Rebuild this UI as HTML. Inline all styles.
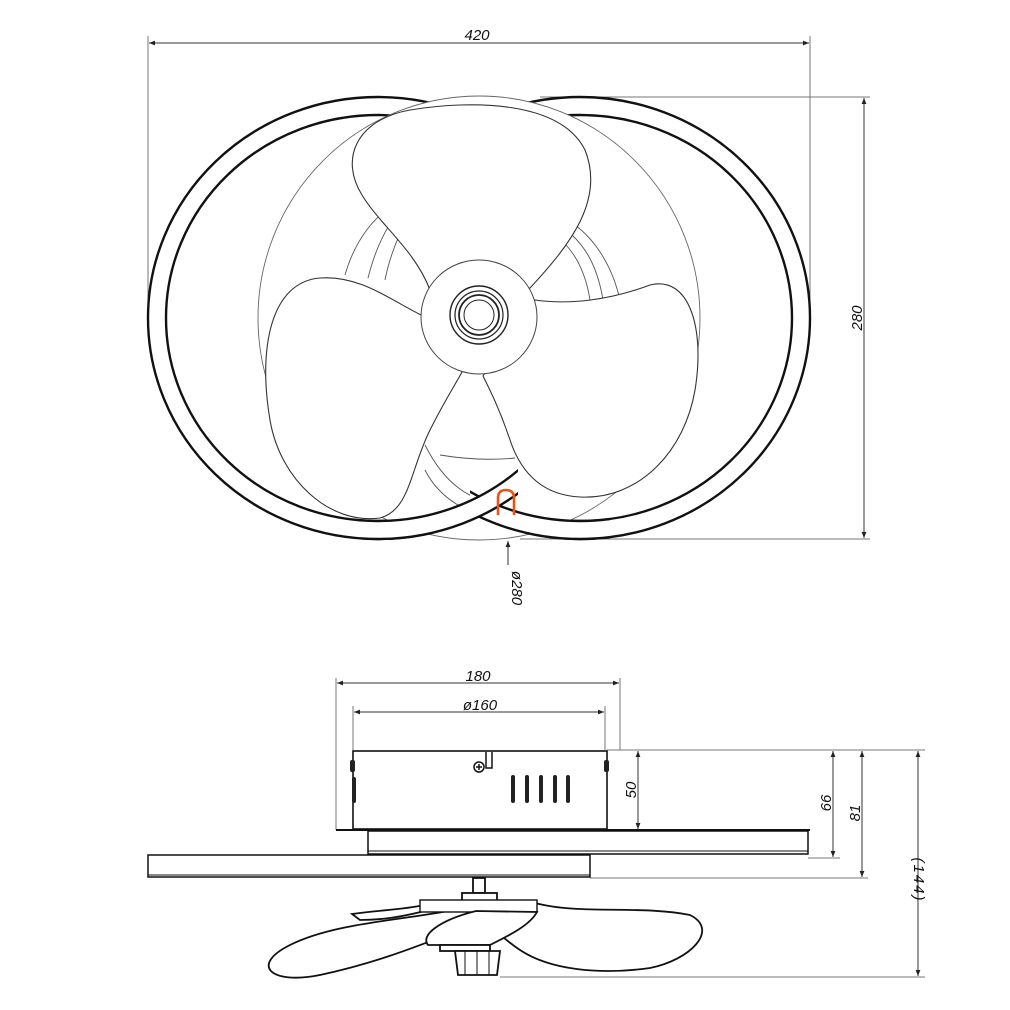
<!DOCTYPE html>
<html><head><meta charset="utf-8"><style>
html,body{margin:0;padding:0;background:#fff;}
svg{display:block;}
text{font-family:"Liberation Sans",sans-serif;font-style:italic;font-size:15px;fill:#111;}
</style></head><body>
<svg width="1010" height="1010" viewBox="0 0 1010 1010" xmlns="http://www.w3.org/2000/svg">
<defs>
<marker id="a" viewBox="0 0 10 10" refX="10" refY="5" markerWidth="9" markerHeight="6" orient="auto-start-reverse"><path d="M0,1 L10,5 L0,9 z" fill="#222"/></marker>
<clipPath id="cl"><rect x="360" y="440" width="158" height="110"/></clipPath>
<clipPath id="cr"><rect x="470" y="470" width="140" height="80"/></clipPath>
</defs>
<g fill="none" stroke="#333" stroke-width="1">
<line x1="148" y1="36" x2="148" y2="300" stroke="#777"/>
<line x1="810" y1="36" x2="810" y2="300" stroke="#777"/>
<line x1="149" y1="43" x2="809" y2="43" marker-start="url(#a)" marker-end="url(#a)"/>
<line x1="540" y1="97" x2="870" y2="97" stroke="#777"/>
<line x1="520" y1="539" x2="870" y2="539" stroke="#777"/>
<line x1="864" y1="98" x2="864" y2="538" marker-start="url(#a)" marker-end="url(#a)"/>
<line x1="508" y1="541" x2="508" y2="565" marker-start="url(#a)"/>
</g>
<text x="477" y="40" text-anchor="middle">420</text>
<text transform="translate(862,318) rotate(-90)" text-anchor="middle">280</text>
<text transform="translate(512,588) rotate(90)" text-anchor="middle">ø280</text>

<!-- rings -->
<g fill="none" stroke="#111" stroke-width="2.4">
<ellipse cx="378" cy="318" rx="230" ry="221"/>
<ellipse cx="378" cy="318" rx="212" ry="203"/>
<ellipse cx="580" cy="318" rx="230" ry="221"/>
<ellipse cx="580" cy="318" rx="212" ry="203"/>
</g>
<!-- fan circle -->
<ellipse cx="479" cy="318" rx="221" ry="222" fill="#fff" stroke="#666" stroke-width="0.9"/>
<g fill="none" stroke="#555" stroke-width="0.9">
<path d="M345,275 C355,240 375,215 395,205"/>
<path d="M368,278 C375,250 385,228 400,210"/>
<path d="M385,280 C390,255 398,235 410,215"/>
<path d="M620,300 C612,265 595,240 575,225"/>
<path d="M603,300 C598,270 588,250 572,235"/>
<path d="M590,300 C586,275 578,258 566,245"/>
<path d="M425,445 C445,485 470,500 500,505"/>
<path d="M440,455 C470,460 495,460 515,458"/>
<path d="M425,470 C440,500 470,515 500,520"/>
</g>
<!-- blades -->
<g fill="#fff" stroke="#333" stroke-width="1.1">
<path d="M430,290 C415,250 380,225 362,195 C340,160 355,120 410,110 C470,100 560,100 585,150 C605,200 570,245 530,288 Z"/>
<path d="M425,317 C390,300 360,275 320,278 C270,282 258,350 270,420 C280,480 330,525 380,518 C410,510 410,470 430,430 C445,400 455,385 462,372 Z"/>
</g>
<!-- front ring parts -->
<g clip-path="url(#cr)" fill="#fff" fill-rule="evenodd" stroke="#111" stroke-width="2.4">
<path d="M350,318 a230,221 0 1,0 460,0 a230,221 0 1,0 -460,0 Z M368,318 a212,203 0 1,0 424,0 a212,203 0 1,0 -424,0 Z"/>
</g>
<g clip-path="url(#cl)" fill="#fff" fill-rule="evenodd" stroke="#111" stroke-width="2.4">
<path d="M148,318 a230,221 0 1,0 460,0 a230,221 0 1,0 -460,0 Z M166,318 a212,203 0 1,0 424,0 a212,203 0 1,0 -424,0 Z"/>
</g>
<g fill="#fff" stroke="#333" stroke-width="1.1">
<path d="M535,300 C570,305 610,300 650,285 C690,275 705,330 695,390 C685,450 640,500 580,497 C540,495 520,470 510,440 C500,410 490,390 483,376 Z"/>
</g>
<!-- hub -->
<ellipse cx="479" cy="317" rx="58" ry="57" fill="#fff" stroke="#444" stroke-width="1"/>
<g fill="none" stroke="#222">
<circle cx="479" cy="315" r="29" stroke-width="1.4"/>
<circle cx="479" cy="315" r="24" stroke-width="1.2"/>
<circle cx="479" cy="315" r="20" stroke-width="1.8"/>
<circle cx="479" cy="315" r="15" stroke-width="1"/>
</g>
<path d="M498,515 L498,498 Q498,490 506,490 Q514,490 514,498 L514,515" fill="none" stroke="#e8541a" stroke-width="2.6"/>

<!-- bottom view dims -->
<g fill="none" stroke="#333" stroke-width="1">
<line x1="336" y1="678" x2="336" y2="830" stroke="#777"/>
<line x1="620" y1="678" x2="620" y2="750" stroke="#777"/>
<line x1="353" y1="706" x2="353" y2="750" stroke="#777"/>
<line x1="605" y1="706" x2="605" y2="750" stroke="#777"/>
<line x1="337" y1="683" x2="619" y2="683" marker-start="url(#a)" marker-end="url(#a)"/>
<line x1="354" y1="712" x2="604" y2="712" marker-start="url(#a)" marker-end="url(#a)"/>
<line x1="607" y1="750" x2="925" y2="750" stroke="#777"/>
<line x1="808" y1="858" x2="840" y2="858" stroke="#777"/>
<line x1="590" y1="878" x2="868" y2="878" stroke="#777"/>
<line x1="500" y1="977" x2="925" y2="977" stroke="#777"/>
<line x1="638" y1="751" x2="638" y2="829" marker-start="url(#a)" marker-end="url(#a)"/>
<line x1="833" y1="751" x2="833" y2="857" marker-start="url(#a)" marker-end="url(#a)"/>
<line x1="862" y1="751" x2="862" y2="877" marker-start="url(#a)" marker-end="url(#a)"/>
<line x1="918" y1="751" x2="918" y2="976" marker-start="url(#a)" marker-end="url(#a)"/>
</g>
<text x="478" y="681" text-anchor="middle">180</text>
<text x="480" y="710" text-anchor="middle">ø160</text>
<text transform="translate(636,790) rotate(-90)" text-anchor="middle">50</text>
<text transform="translate(831,803) rotate(-90)" text-anchor="middle">66</text>
<text transform="translate(860,813) rotate(-90)" text-anchor="middle">81</text>
<text transform="translate(914,880) rotate(90)" text-anchor="middle" letter-spacing="2">(144)</text>

<!-- box -->
<g stroke="#111" fill="#fff">
<rect x="353" y="751" width="254" height="78" stroke-width="1.6"/>
<line x1="336" y1="830" x2="810" y2="830" stroke-width="2"/>
<rect x="368" y="831" width="440" height="23" stroke-width="1.5"/>
<line x1="368" y1="851" x2="808" y2="851" stroke-width="1"/>
<rect x="148" y="855" width="442" height="22" stroke-width="1.5"/>
<line x1="148" y1="875" x2="590" y2="875" stroke-width="1"/>
</g>
<g fill="#222">
<rect x="350" y="760" width="5" height="12" rx="2"/>
<rect x="352" y="777" width="4" height="26" rx="2"/>
<rect x="604" y="760" width="5" height="12" rx="2"/>
<rect x="511" y="775" width="4" height="28" rx="2"/>
<rect x="525" y="775" width="4" height="28" rx="2"/>
<rect x="539" y="775" width="4" height="28" rx="2"/>
<rect x="553" y="775" width="4" height="28" rx="2"/>
<rect x="566" y="775" width="4" height="28" rx="2"/>
</g>
<g fill="none" stroke="#111" stroke-width="1.5">
<circle cx="479" cy="767" r="5"/>
<path d="M476,767 h6 M479,764 v6"/>
<path d="M486,752 V768 H492 V752"/>
</g>
<!-- fan side -->
<g stroke="#111" fill="#fff" stroke-width="1.8">
<rect x="473" y="878" width="12" height="15"/>
<rect x="462" y="893" width="35" height="8"/>
<path d="M352,914 C380,910 400,910 425,905 L440,907 C400,918 380,920 360,920 Z"/>
<path d="M535,903 C580,915 640,905 690,915 C720,930 690,960 650,968 C600,975 550,970 520,950 C505,940 495,930 490,925 Z"/>
<path d="M470,906 C420,920 340,920 290,945 C250,965 270,985 320,975 C380,962 420,945 460,930 Z"/>
<rect x="420" y="900" width="117" height="12" stroke-width="1.4"/>
<path d="M476,911 C440,920 420,935 428,945 L490,945 C510,935 530,925 537,912 Z"/>
<rect x="440" y="945" width="50" height="6"/>
<path d="M455,951 h45 l-3,24 h-39 z"/>
<path d="M465,951 v24 M477,951 v24 M489,951 v24" stroke-width="1"/>
</g>
</svg>
</body></html>
